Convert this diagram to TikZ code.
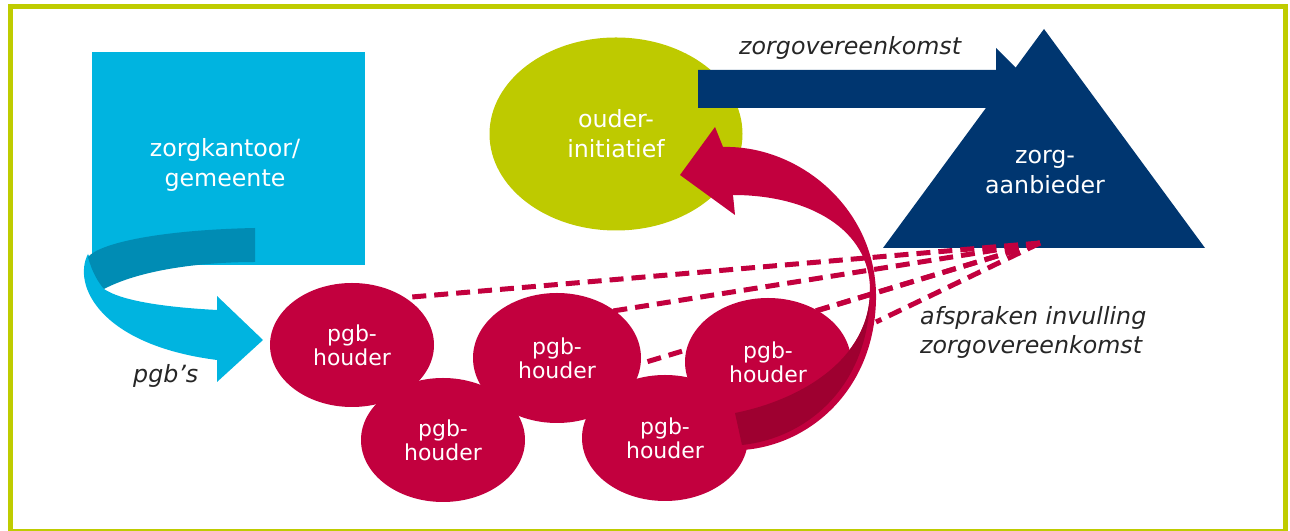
\documentclass[tikz,border=0pt]{standalone}
\usepackage{fontspec}
\setmainfont{DejaVu Sans}
\usepackage{tikz}
\usetikzlibrary{shapes.geometric}
\usetikzlibrary{positioning}
\definecolor{framegreen}{RGB}{191,204,0}
\definecolor{limegreen}{RGB}{190,202,0}
\definecolor{zkcyan}{RGB}{0,180,224}
\definecolor{zkdark}{RGB}{0,140,180}
\definecolor{navy}{RGB}{0,54,112}
\definecolor{pgbred}{RGB}{194,0,62}
\definecolor{pgbdark}{RGB}{158,0,48}
\tikzset{>=latex}
\tikzset{
  houder/.style={ellipse, fill=pgbred, text=white, inner sep=0pt, align=center,
    font=\fontsize{12.5}{13.5}\selectfont},
  wit/.style={text=white, align=center, font=\fontsize{13.5}{17}\selectfont},
  italtekst/.style={text=black!85, align=left, font=\fontsize{13.5}{16.5}\selectfont\itshape},
  afspraak/.style={draw=pgbred, line width=1mm, dash pattern=on 2.8mm off 1.6mm}
}

\begin{document}
\begin{tikzpicture}[x=0.2mm,y=-0.2mm]
\useasboundingbox (0,0) rectangle (1290,531);

% Frame
\draw[framegreen, line width=1mm] (10,7) rectangle (1285,532);

% Zorgkantoor
\fill[zkcyan] (92,52) rectangle (365,265);
\node[wit] (zk) at (225,165) {zorgkantoor/\\gemeente};

% pgb's
\fill[zkcyan] (88,254) .. controls (72,285) and (100,345) .. (217,360) -- (217,382) -- (263,340)
  -- (217,296) -- (217,310) .. controls (160,307) and (120,300) .. (104,289) -- cycle;
\fill[zkdark] (255,228) .. controls (160,230) and (100,243) .. (88,257)
  .. controls (92,272) and (98,282) .. (104,289) .. controls (140,270) and (200,262) .. (255,262) -- cycle;
\node[italtekst, anchor=base west] (pgbs) at (127,383) {pgb's};

% Ouderinitiatief
\node[ellipse, fill=limegreen, minimum width=50.6mm, minimum height=38.6mm, wit] (oi) at (616,134) {ouder-\\initiatief};

% Zorgaanbieder
\fill[navy] (883,248) -- (1044,29) -- (1205,248) -- cycle;
\node[wit] (za) at (1045,172) {zorg-\\aanbieder};

% Zorgovereenkomst
\fill[navy] (698,70) -- (996,70) -- (996,48) -- (1037,89) -- (996,130) -- (996,108) -- (698,108) -- cycle;
\node[italtekst, anchor=base west] (zo) at (733,55) {zorgovereenkomst};

% Afspraken
\coordinate (fan) at (1040,243);
\coordinate (e1) at (412,297);
\coordinate (e2) at (613,311);
\coordinate (e3) at (643,363);
\coordinate (e4) at (813,312);
\coordinate (e5) at (876,322);
\foreach \e in {e1,e2,e3,e4,e5}
  \draw[afspraak] (fan) -- (\e);
\node[italtekst, anchor=west] (af) at (914,332) {afspraken invulling\\zorgovereenkomst};

% pgb-houders
\node[houder, minimum width=32.8mm, minimum height=24.8mm] (hA) at (352,345) {pgb-\\houder};
\node[houder, minimum width=32.8mm, minimum height=24.8mm] (hB) at (443,440) {pgb-\\houder};
\node[houder, minimum width=33.6mm, minimum height=26mm] (hC) at (557,358) {pgb-\\houder};
\node[houder, minimum width=33.2mm, minimum height=25.6mm] (hD) at (768,362) {pgb-\\houder};
\node[houder, minimum width=33.2mm, minimum height=25.2mm] (hE) at (665,438) {pgb-\\houder};

% Terug naar ouderinitiatief
\fill[pgbred] (723,147) .. controls (800,145) and (878,210) .. (876,300)
  .. controls (874,390) and (810,445) .. (743,450) -- (735,413)
  .. controls (800,400) and (870,360) .. (870,290)
  .. controls (870,230) and (810,195) .. (733,195) -- (735,215) -- (680,175) -- (715,127) -- cycle;
\fill[pgbdark] (870,290) .. controls (871,385) and (808,438) .. (742,445) -- (735,413)
  .. controls (800,400) and (870,360) .. (870,290) -- cycle;

\end{tikzpicture}
\end{document}
